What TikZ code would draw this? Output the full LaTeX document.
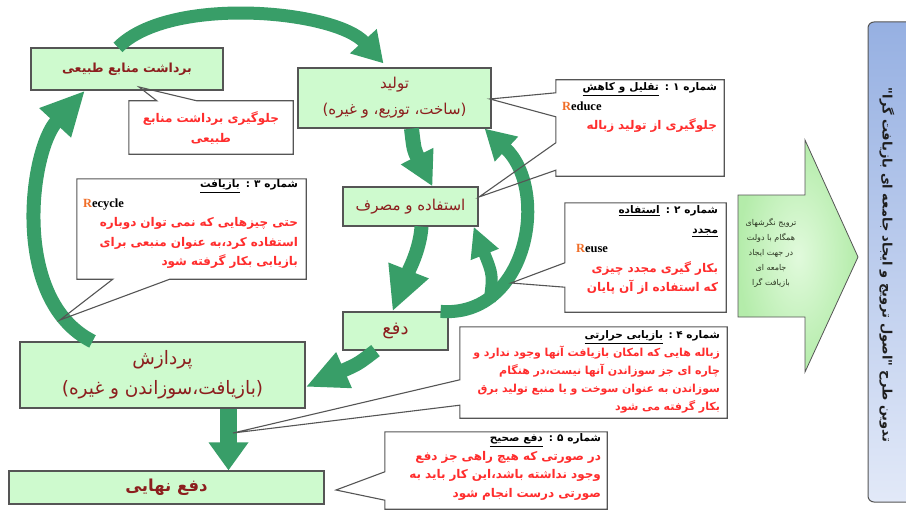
\documentclass[tikz,border=0pt]{standalone}
\usepackage{fontspec}
\setmainfont{Liberation Serif}
\newfontfamily\arabicfont[Script=Arabic]{DejaVu Sans}
\TeXXeTstate=1
\usetikzlibrary{arrows.meta}
\definecolor{gcol}{RGB}{56,158,104}
\definecolor{boxfill}{RGB}{206,250,206}
\definecolor{boxline}{RGB}{85,85,85}
\definecolor{maintext}{RGB}{140,30,30}
\definecolor{redtext}{RGB}{255,45,45}
\definecolor{rorange}{RGB}{240,110,40}
\definecolor{bluetop}{RGB}{150,176,226}
\definecolor{bluebot}{RGB}{226,233,248}
\definecolor{arrowgreen}{RGB}{180,236,170}
\definecolor{arrowlight}{RGB}{225,250,220}
\newcommand\ar[1]{\mbox{\arabicfont\beginR #1\endR}}
\newcommand\arb[1]{\mbox{\arabicfont\bfseries\beginR #1\endR}}
\newcommand\ulr[1]{\underline{\beginR #1\endR}}
\newcommand\hd[1]{{\fontsize{10.5}{18}\selectfont\arb{#1}}}
\newcommand\rd[1]{\textcolor{redtext}{\arb{#1}}}
\newcommand\Rword[1]{\makebox[\linewidth][l]{\fontsize{12.5}{18}\selectfont\bfseries\textcolor{rorange}{R}#1}}
\begin{document}
\begin{tikzpicture}[x=1pt,y=-1pt,
  gbox/.style={draw=boxline,line width=1.2pt,fill=boxfill,inner sep=0pt,text=maintext,align=center},
  cbox/.style={inner sep=0pt},
  cline/.style={draw=boxline,line width=1.1pt,line join=miter},
  ctext/.style={inner sep=0pt,align=right,font=\fontsize{12}{19.5}\selectfont},
  garrow/.style={draw=gcol,line width=13pt},
]
\useasboundingbox (0,0) rectangle (906,511);
\fill[white] (0,0) rectangle (906,511);

% ---------- main boxes
\node[gbox,minimum width=192pt,minimum height=42pt,font=\fontsize{12.5}{16}\selectfont] (b1) at (127,69) {\arb{برداشت منابع طبیعی}};
\node[gbox,minimum width=193pt,minimum height=60pt,font=\fontsize{15}{26}\selectfont] (b2) at (394.5,98) {\ar{تولید}\\\ar{(ساخت، توزیع، و غیره)}};
\node[gbox,minimum width=135pt,minimum height=39pt,font=\fontsize{15}{18}\selectfont] (b3) at (410.5,206.5) {\ar{استفاده و مصرف}};
\node[gbox,minimum width=105pt,minimum height=38pt,font=\fontsize{18}{20}\selectfont] (b4) at (395.5,331) {\ar{دفع}};
\node[gbox,minimum width=285pt,minimum height=66pt,font=\fontsize{18.5}{30}\selectfont] (b5) at (162.5,375) {\ar{پردازش}\\\ar{(بازیافت،سوزاندن و غیره)}};
\node[gbox,minimum width=315pt,minimum height=33pt,font=\fontsize{16.5}{18}\selectfont] (b6) at (166.5,487.5) {\arb{دفع نهایی}};

% ---------- green arrows
\draw[garrow,-{Triangle[width=34pt,length=30pt]}] ([xshift=-9pt]b1.north) .. controls (170,-5) and (335,10) .. ([shift={(-11,-4)}]b2.north);
\draw[garrow,line width=15pt,-{Triangle[width=34pt,length=34pt]}] ([xshift=17pt]b2.south) .. controls (414,150) .. ([xshift=22pt]b3.north);
\draw[garrow,line width=14pt,-{Triangle[width=40pt,length=44pt]}] ([xshift=11pt]b3.south) .. controls (420,250) and (408,272) .. ([xshift=-3pt]b4.north);
\draw[garrow,-{Triangle[width=32pt,length=30pt]}] ([xshift=-8pt]b4.north east) .. controls (528,318) and (550,190) .. ([xshift=-7pt]b2.south east);
\draw[garrow,line width=12pt,-{Triangle[width=28pt,length=30pt]}] ([xshift=41pt,yshift=10pt]b4.north east) .. controls (493,275) .. ([xshift=-5pt]b3.south east);
\draw[garrow,line width=14pt,-{Triangle[width=36pt,length=42pt]}] ([xshift=-20pt]b4.south) .. controls (358,364) .. ([yshift=-12pt]b5.east);
\draw[garrow,line width=17pt,-{Triangle[width=38pt,length=28pt]}] ([xshift=66pt]b5.south) -- ([xshift=62pt]b6.north);
\draw[garrow,line width=14pt,-{Triangle[width=40pt,length=44pt]}] ([xshift=-70pt]b5.north) .. controls (10,300) and (30,150) .. ([xshift=-42pt]b1.south);

% ---------- callout 0
\node[cbox,minimum width=164pt,minimum height=53pt] (c0) at (211,127.5) {};
\coordinate (t0) at (139,87);
\draw[cline] (c0.north west) -- ([xshift=28pt]c0.north west) -- (t0) -- ([xshift=68pt]c0.north west) -- (c0.north east) -- (c0.south east) -- (c0.south west) -- cycle;
\node[inner sep=0pt,align=center,text=redtext,font=\fontsize{12}{20}\selectfont] (c0t) at (211,128) {\arb{جلوگیری برداشت منابع}\\\arb{طبیعی}};

% ---------- callout 1
\node[cbox,minimum width=168pt,minimum height=96pt] (c1) at (640,128) {};
\coordinate (t1a) at (490,99);
\coordinate (t1b) at (479,197);
\draw[cline] (c1.north west) -- (c1.north east) -- (c1.south east) -- (c1.south west) -- ([yshift=6pt]c1.south west) -- (t1b) -- ([yshift=-63pt]c1.north west) -- ([yshift=-37pt]c1.north west) -- (t1a) -- ([yshift=-13pt]c1.north west) -- cycle;
\node[ctext,text width=155pt,anchor=north east] (c1t) at ([shift={(-7,3)}]c1.north east)
 {\hd{شماره ۱ : \ulr{تقلیل و کاهش}}\\
  \Rword{educe}\\
  \rd{جلوگیری از تولید زباله}\hspace*{13pt}};

% ---------- callout 2
\node[cbox,minimum width=161pt,minimum height=109pt] (c2) at (645.5,257.5) {};
\coordinate (t2) at (511,283);
\draw[cline] (c2.north west) -- (c2.north east) -- (c2.south east) -- (c2.south west) -- ([yshift=25pt]c2.south west) -- (t2) -- ([yshift=-60pt]c2.north west) -- cycle;
\node[ctext,text width=142pt,anchor=north east] (c2t) at ([shift={(-8,3)}]c2.north east)
 {\hd{شماره ۲ : \ulr{استفاده}}\\
  \hd{\ulr{مجدد}}\\
  \Rword{euse}\\
  \rd{بکار گیری مجدد چیزی}\\
  \rd{که استفاده از آن پایان}};

% ---------- callout 3
\node[cbox,minimum width=229pt,minimum height=100pt] (c3) at (191.5,229) {};
\coordinate (t3) at (60,320);
\draw[cline] (c3.north west) -- (c3.north east) -- (c3.south east) -- ([xshift=93pt]c3.south west) -- (t3) -- ([xshift=36pt]c3.south west) -- (c3.south west) -- cycle;
\node[ctext,text width=215pt,anchor=north east] (c3t) at ([shift={(-8,1)}]c3.north east)
 {\hd{شماره ۳ : \ulr{بازیافت}}\\
  \Rword{ecycle}\\
  \rd{حتی چیزهایی که نمی توان دوباره}\\
  \rd{استفاده کرد،به عنوان منبعی برای}\\
  \rd{بازیابی بکار گرفته شود}};

% ---------- callout 4
\node[cbox,minimum width=267pt,minimum height=91pt] (c4) at (593.5,372.5) {};
\coordinate (t4) at (233,433);
\draw[cline] (c4.north west) -- (c4.north east) -- (c4.south east) -- (c4.south west) -- ([yshift=13pt]c4.south west) -- (t4) -- ([yshift=-53pt]c4.north west) -- cycle;
\node[ctext,text width=258pt,anchor=north east,font=\fontsize{11}{18}\selectfont] (c4t) at ([shift={(-7,4)}]c4.north east)
 {\hd{شماره ۴ : \ulr{بازیابی حرارتی}}\\
  \rd{زباله هایی که امکان بازیافت آنها وجود ندارد و}\\
  \rd{چاره ای جز سوزاندن آنها نیست،در هنگام}\\
  \rd{سوزاندن به عنوان سوخت و یا منبع تولید برق}\\
  \rd{بکار گرفته می شود}};

% ---------- callout 5
\node[cbox,minimum width=222pt,minimum height=77pt] (c5) at (496,470.5) {};
\coordinate (t5) at (336,490);
\draw[cline] (c5.north west) -- (c5.north east) -- (c5.south east) -- (c5.south west) -- ([yshift=9pt]c5.south west) -- (t5) -- ([yshift=-40pt]c5.north west) -- cycle;
\node[ctext,text width=205pt,anchor=north east,font=\fontsize{12}{18.5}\selectfont] (c5t) at ([shift={(-6,2)}]c5.north east)
 {\hd{شماره ۵ : \ulr{دفع صحیح}}\\
  \rd{در صورتی که هیچ راهی جز دفع}\\
  \rd{وجود نداشته باشد،این کار باید به}\\
  \rd{صورتی درست انجام شود}};

% ---------- block arrow
\coordinate (ba1) at (738,195);
\coordinate (ba2) at (805,195);
\coordinate (ba3) at (805,140);
\coordinate (ba4) at (858,257);
\coordinate (ba5) at (805,372);
\coordinate (ba6) at (805,317);
\coordinate (ba7) at (738,317);
\shade[inner color=arrowlight,outer color=arrowgreen] (ba1) -- (ba2) -- (ba3) -- (ba4) -- (ba5) -- (ba6) -- (ba7) -- cycle;
\draw[boxline,line width=0.8pt] (ba1) -- (ba2) -- (ba3) -- (ba4) -- (ba5) -- (ba6) -- (ba7) -- cycle;
\node[inner sep=0pt,align=center,text={rgb,255:red,45;green,55;blue,35},font=\fontsize{8}{15}\selectfont] (bat) at (771,253)
 {\ar{ترویج نگرشهای}\\\ar{همگام با دولت}\\\ar{در جهت ایجاد}\\\ar{جامعه ای}\\\ar{بازیافت گرا}};

% ---------- blue box
\shade[top color=bluetop,bottom color=bluebot,rounded corners=6pt] (868,22) rectangle (925,502);
\draw[boxline,line width=1pt,rounded corners=6pt] (868,22) rectangle (925,502);
\node[inner sep=0pt,rotate=-90,text={rgb,255:red,30;green,30;blue,30},font=\fontsize{13}{15}\selectfont] (vt) at (887,265)
 {\arb{تدوین طرح "اصول ترویج و ایجاد جامعه ای بازیافت گرا"}};
\end{tikzpicture}
\end{document}
